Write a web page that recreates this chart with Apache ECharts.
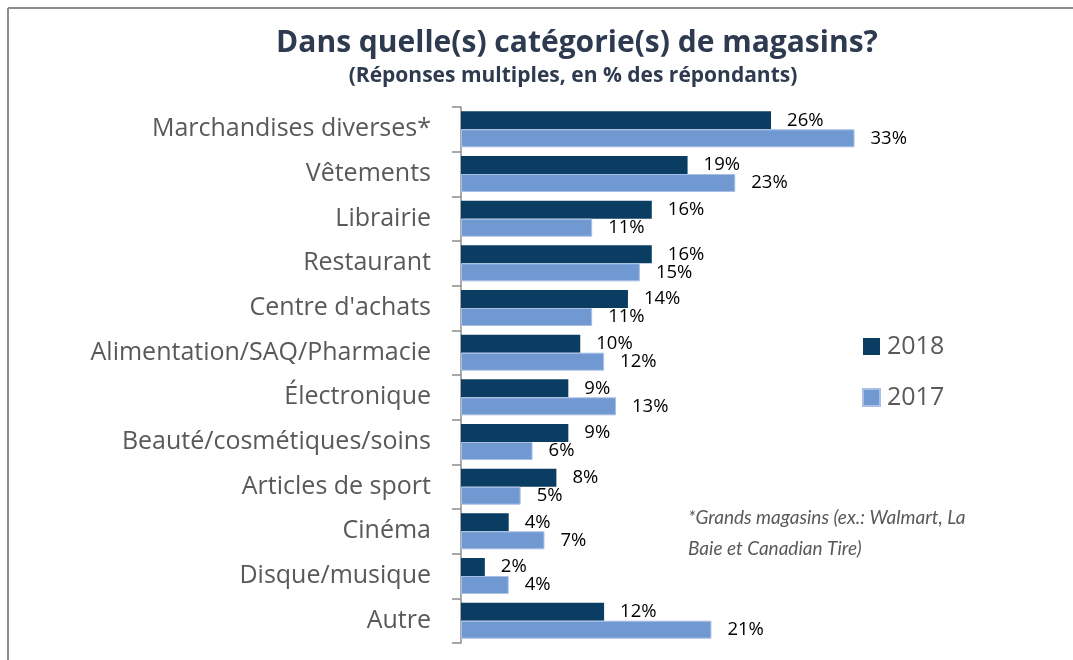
<!DOCTYPE html>
<html>
<head>
<meta charset="utf-8">
<script src="https://cdn.jsdelivr.net/npm/echarts@6/dist/echarts.min.js"></script>
<style>
  html, body { margin: 0; padding: 0; background: #fff; }
  #chart { width: 1073px; height: 660px; }
</style>
</head>
<body>
<div id="chart"></div>
<script>
// catégories, de haut en bas
const categories = [
  'Marchandises diverses*', 'Vêtements', 'Librairie', 'Restaurant',
  "Centre d'achats", 'Alimentation/SAQ/Pharmacie', 'Électronique',
  'Beauté/cosmétiques/soins', 'Articles de sport', 'Cinéma',
  'Disque/musique', 'Autre'
]
const values2018 = [26, 19, 16, 16, 14, 10, 9, 9, 8, 4, 2, 12]
const values2017 = [33, 23, 11, 15, 11, 12, 13, 6, 5, 7, 4, 21]
const seriesNames = ['2018', '2017']

const FONT = 'Open Sans'
const chart = echarts.init(document.getElementById('chart'), null, { renderer: 'canvas' })

const labelStyle = {
  show: true,
  position: 'right',
  distance: 16,
  formatter: '{c}%',
  color: '#000',
  fontFamily: FONT,
  fontSize: 18.5
}

chart.setOption({
  animation: false,
  textStyle: { fontFamily: FONT },
  title: [
    {
      text: 'Dans quelle(s) catégorie(s) de magasins?',
      left: 572, top: 23, textAlign: 'center',
      textStyle: { fontSize: 30, fontWeight: 'bold', color: '#2E3A4F', fontFamily: FONT }
    },
    {
      text: '(Réponses multiples, en % des répondants)',
      left: 568, top: 61, textAlign: 'center',
      textStyle: { fontSize: 21, fontWeight: 'bold', color: '#2E3A4F', fontFamily: FONT }
    }
  ],
  legend: {
    orient: 'vertical',
    left: 857, top: 329,
    itemWidth: 17, itemHeight: 17,
    itemGap: 26,
    icon: 'rect',
    data: seriesNames,
    textStyle: { fontSize: 25, color: '#595959', fontFamily: FONT, padding: [0, 0, 0, 2] }
  },
  grid: { left: 461, top: 107, width: 477, height: 536, containLabel: false },
  xAxis: {
    type: 'value', min: 0, max: 40,
    show: false
  },
  yAxis: {
    type: 'category',
    inverse: true,
    data: categories,
    axisLine: { show: true, lineStyle: { color: '#8c8c8c', width: 1.5 } },
    axisTick: { show: true, length: 9, lineStyle: { color: '#8c8c8c', width: 1.5 } },
    axisLabel: { margin: 30, fontSize: 25, color: '#595959', fontFamily: FONT }
  },
  series: [
    {
      name: seriesNames[0], type: 'bar', data: values2018,
      barWidth: 18, barGap: '0%',
      itemStyle: { color: '#0B3D62' },
      label: labelStyle
    },
    {
      name: seriesNames[1], type: 'bar', data: values2017,
      barWidth: 18,
      itemStyle: { color: '#7199D1', borderColor: '#A9C0E4', borderWidth: 1 },
      label: labelStyle
    }
  ],
  graphic: [
    { type: 'line', shape: { x1: 8, y1: 8, x2: 1073, y2: 8 }, style: { stroke: '#8c8c8c', lineWidth: 2 } },
    { type: 'line', shape: { x1: 8, y1: 8, x2: 8, y2: 660 }, style: { stroke: '#8c8c8c', lineWidth: 2 } },
    {
      type: 'text', left: 688, top: 502,
      style: {
        text: '*Grands magasins (ex.: Walmart, La\nBaie et Canadian Tire)',
        fontFamily: 'Lato', fontStyle: 'italic', fontSize: 19, lineHeight: 31,
        fill: '#595959'
      }
    }
  ]
})
</script>
</body>
</html>
